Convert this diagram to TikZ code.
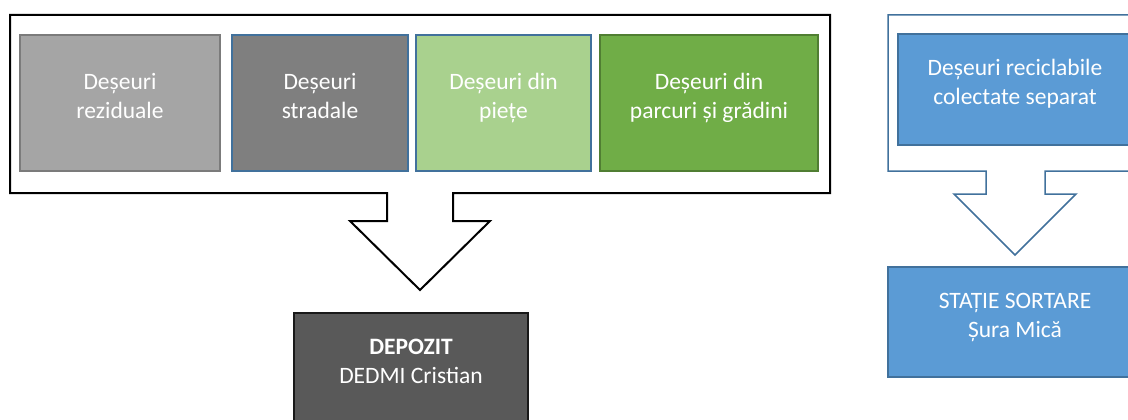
\documentclass[tikz,border=0pt]{standalone}
\usepackage{fontspec}
\setmainfont{Carlito}
\usetikzlibrary{positioning}

\definecolor{rezgrey}{HTML}{A5A5A5}
\definecolor{rezline}{HTML}{7B7B7B}
\definecolor{strgrey}{HTML}{7F7F7F}
\definecolor{pietgreen}{HTML}{A9D18E}
\definecolor{parcgreen}{HTML}{70AD47}
\definecolor{parcline}{HTML}{507E32}
\definecolor{depgrey}{HTML}{595959}
\definecolor{recblue}{HTML}{5B9BD5}
\definecolor{blueline}{HTML}{41719C}

\begin{document}
\begin{tikzpicture}[x=1pt,y=-1pt,line join=miter,
    box/.style={draw,line width=1.5pt,inner sep=0pt,outer sep=0pt,minimum height=136pt},
    txt/.style={text=white,align=center,font=\fontsize{23.5}{29}\selectfont}]

            \useasboundingbox (0,0) rectangle (1128,420);

            % callout outlines
            \draw[line width=2pt] (10,15) -- (830,15) -- (830,193) -- (453,193) -- (453,221) -- (490,221)
                -- (420,290) -- (350,221) -- (387,221) -- (387,193) -- (10,193) -- cycle;
            \draw[line width=1.5pt, blueline] (888,15) -- (1142,15) -- (1142,171) -- (1045,171) -- (1045,194) -- (1076,194)
                -- (1015,255) -- (954,194) -- (986,194) -- (986,171) -- (888,171) -- cycle;

            \node[box, draw=rezline, fill=rezgrey, minimum width=200pt] (1) at (120,103) {};
            \node[box, draw=blueline, fill=strgrey, minimum width=176pt] (2) [right=12pt of 1] {};
            \node[box, draw=blueline, fill=pietgreen, minimum width=175pt] (3) [right=8pt of 2] {};
            \node[box, draw=parcline, fill=parcgreen, minimum width=218pt] (4) [right=9pt of 3] {};
            \node[box, draw=black!90, fill=depgrey, minimum width=234pt, minimum height=110pt] (5) at (411,368) {};
            \node[box, draw=blueline, fill=recblue, minimum width=234pt, minimum height=111pt] (6) at (1015,89.5) {};
            \node[box, draw=blueline, fill=recblue, minimum width=254pt, minimum height=110pt] (7) at (1015,322) {};

            \node[txt] (1t) at ([yshift=5pt]1.center) {\strut Deșeuri\\reziduale\strut};
            \node[txt] (2t) at ([yshift=5pt]2.center) {\strut Deșeuri\\stradale\strut};
            \node[txt] (3t) at ([yshift=5pt]3.center) {\strut Deșeuri din\\piețe\strut};
            \node[txt] (4t) at ([yshift=5pt]4.center) {\strut Deșeuri din\\parcuri și grădini\strut};
            \node[txt] (5t) at ([yshift=5pt]5.center) {\strut\textbf{DEPOZIT}\\DEDMI Cristian\strut};
            \node[txt] (6t) at ([yshift=5pt]6.center) {\strut Deșeuri reciclabile\\colectate separat\strut};
            \node[txt] (7t) at ([yshift=5pt]7.center) {\strut STAȚIE SORTARE\\Șura Mică\strut};

            ;
        \end{tikzpicture}
\end{document}
